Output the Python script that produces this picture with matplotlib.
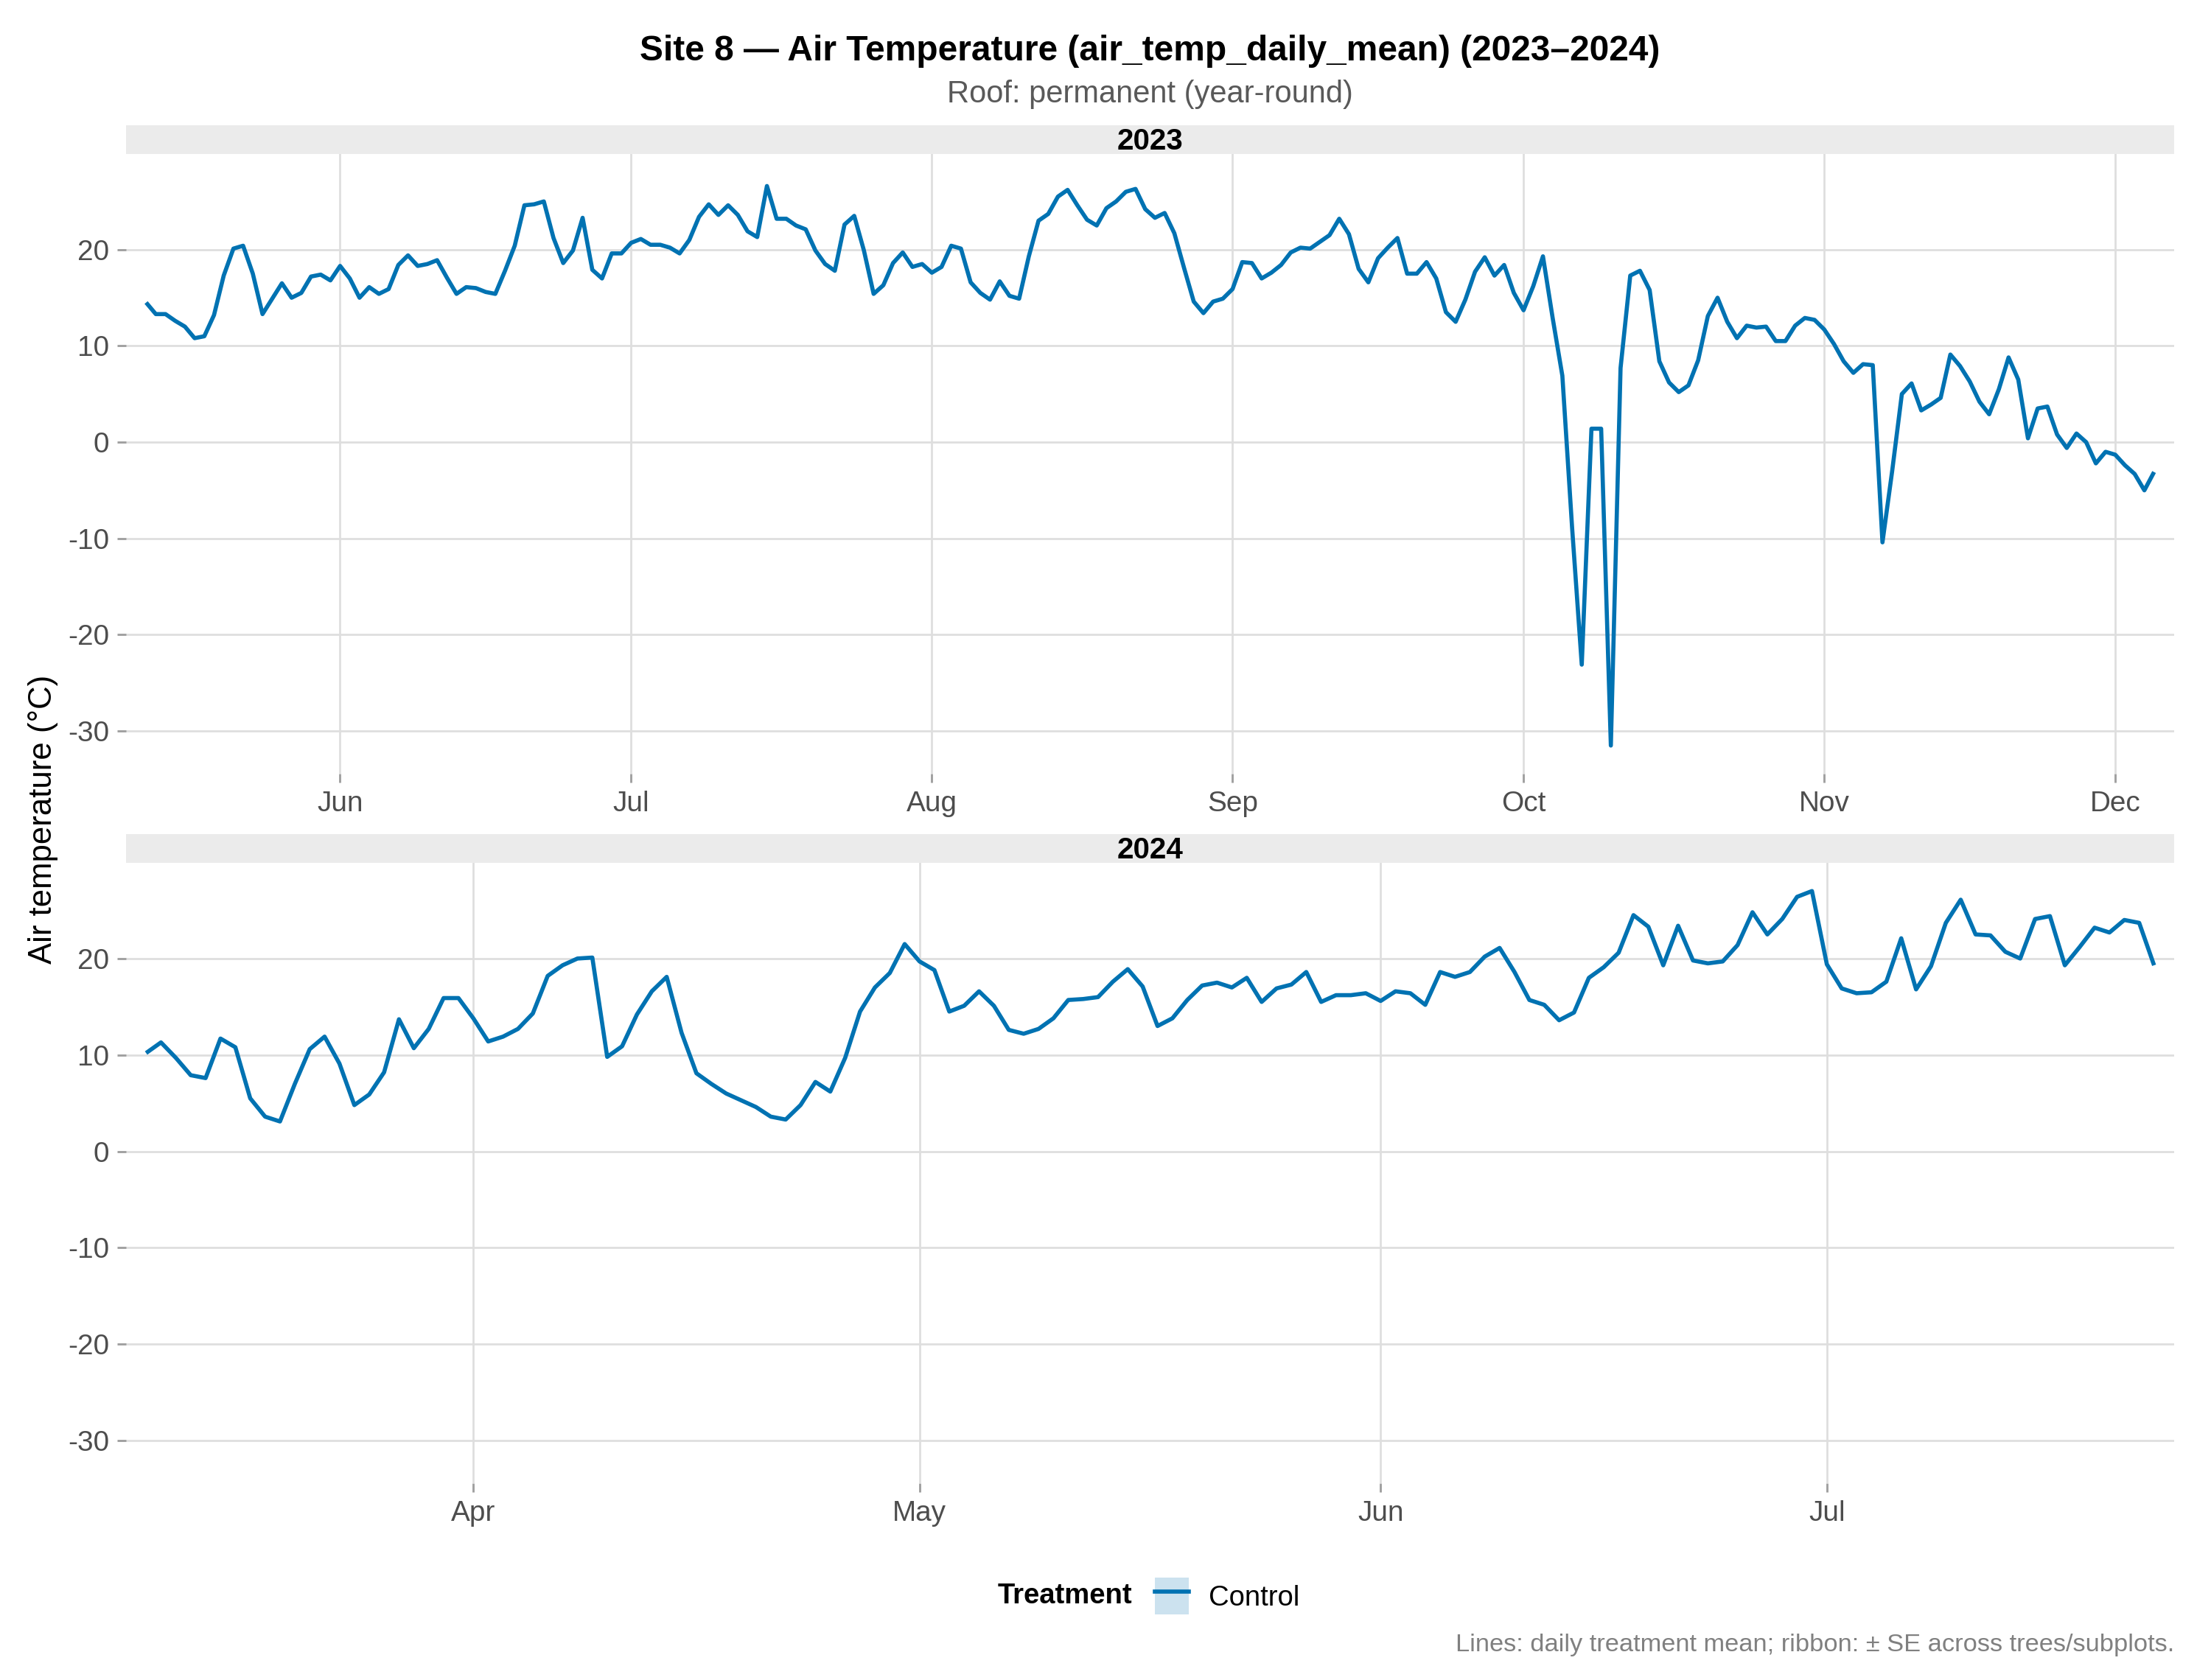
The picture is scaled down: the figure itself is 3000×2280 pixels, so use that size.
import matplotlib
matplotlib.use('Agg')
import matplotlib.pyplot as plt
import matplotlib.dates as mdates
from matplotlib.patches import Patch
from matplotlib.lines import Line2D
import pandas as pd

plt.rcParams['font.family'] = ['Liberation Sans', 'DejaVu Sans']
plt.rcParams['axes.unicode_minus'] = False

# daily treatment mean of air temperature (Control)
start_2023 = '2023-05-12'
temp_2023 = [
    # May 12-31
    14.5, 13.3, 13.3, 12.6, 12.0, 10.8, 11.0, 13.2, 17.3, 20.1, 20.4, 17.5, 13.3, 14.9, 16.5, 15.0, 15.5, 17.2, 17.4, 16.8,
    # Jun
    18.3, 17.0, 15.0, 16.1, 15.4, 15.9, 18.4, 19.4, 18.3, 18.5, 18.9, 17.1, 15.4, 16.1, 16.0, 15.6, 15.4, 17.8, 20.4, 24.6,
    24.7, 25.0, 21.2, 18.6, 19.9, 23.3, 17.9, 17.0, 19.6, 19.6,
    # Jul
    20.7, 21.1, 20.5, 20.5, 20.2, 19.6, 21.0, 23.4, 24.7, 23.6, 24.6, 23.6, 21.9, 21.3, 26.6, 23.2, 23.2, 22.5, 22.1, 19.9,
    18.5, 17.8, 22.6, 23.5, 19.9, 15.4, 16.3, 18.6, 19.7, 18.2, 18.5,
    # Aug
    17.6, 18.2, 20.4, 20.1, 16.6, 15.5, 14.8, 16.7, 15.2, 14.9, 19.3, 23.0, 23.7, 25.5, 26.2, 24.6, 23.1, 22.5, 24.3, 25.0,
    26.0, 26.3, 24.2, 23.3, 23.8, 21.7, 18.1, 14.6, 13.4, 14.6, 14.9,
    # Sep
    15.9, 18.7, 18.6, 17.0, 17.6, 18.4, 19.7, 20.2, 20.1, 20.8, 21.5, 23.2, 21.6, 18.0, 16.6, 19.1, 20.2, 21.2, 17.5, 17.5,
    18.7, 17.0, 13.5, 12.5, 14.8, 17.7, 19.2, 17.3, 18.4, 15.5,
    # Oct
    13.7, 16.2, 19.3, 12.9, 6.9, -8.8, -23.1, 1.4, 1.4, -31.5, 7.7, 17.3, 17.8, 15.8, 8.4, 6.2, 5.2, 5.9, 8.5, 13.1,
    15.0, 12.5, 10.8, 12.1, 11.9, 12.0, 10.5, 10.5, 12.1, 12.9, 12.7,
    # Nov
    11.7, 10.2, 8.4, 7.2, 8.1, 8.0, -10.4, -3.0, 5.0, 6.1, 3.3, 3.9, 4.6, 9.1, 7.9, 6.3, 4.2, 2.9, 5.5, 8.8,
    6.5, 0.4, 3.5, 3.7, 0.8, -0.6, 0.9, 0.0, -2.2, -1.0,
    # Dec 1-5
    -1.3, -2.4, -3.3, -5.0, -3.1,
]

start_2024 = '2024-03-10'
temp_2024 = [
    # Mar 10-31
    10.2, 11.3, 9.7, 7.9, 7.6, 11.7, 10.8, 5.5, 3.6, 3.1, 7.0, 10.6, 11.9, 9.1, 4.8, 5.9, 8.2, 13.7, 10.7, 12.7,
    15.9, 15.9,
    # Apr
    13.8, 11.4, 11.9, 12.7, 14.3, 18.2, 19.3, 20.0, 20.1, 9.8, 10.9, 14.2, 16.6, 18.1, 12.3, 8.1, 7.0, 6.0, 5.3, 4.6,
    3.6, 3.3, 4.8, 7.2, 6.2, 9.7, 14.5, 17.0, 18.5, 21.5,
    # May
    19.7, 18.8, 14.5, 15.1, 16.6, 15.1, 12.6, 12.2, 12.7, 13.8, 15.7, 15.8, 16.0, 17.6, 18.9, 17.1, 13.0, 13.8, 15.7, 17.2,
    17.5, 17.0, 18.0, 15.5, 16.9, 17.3, 18.6, 15.5, 16.2, 16.2, 16.4,
    # Jun
    15.6, 16.6, 16.4, 15.2, 18.6, 18.1, 18.6, 20.2, 21.1, 18.6, 15.7, 15.2, 13.6, 14.4, 18.0, 19.1, 20.6, 24.5, 23.3, 19.3,
    23.4, 19.8, 19.5, 19.7, 21.4, 24.8, 22.5, 24.1, 26.4, 27.0,
    # Jul 1-23
    19.4, 16.9, 16.4, 16.5, 17.6, 22.1, 16.8, 19.2, 23.7, 26.1, 22.5, 22.4, 20.7, 20.0, 24.1, 24.4, 19.3, 21.2, 23.2, 22.7,
    24.0, 23.7, 19.3,
]

years = ['2023', '2024']
starts = [start_2023, start_2024]
series = [temp_2023, temp_2024]
y_ticks = [-30, -20, -10, 0, 10, 20]

line_col = '#0072B2'
W, H = 3000, 2280

fig = plt.figure(figsize=(10, 7.6), dpi=300)

# panel boxes in pixels: (top of strip, top of panel, bottom of panel)
left_px, right_px = 171, 2950
boxes = [(170, 209, 1050), (1132, 1171, 2013)]

ymin = min(min(temp_2023), min(temp_2024))
ymax = max(max(temp_2023), max(temp_2024))
yexp = (ymax - ymin) * 0.05

for year, start, vals, (s_top, p_top, p_bot) in zip(years, starts, series, boxes):
    x0 = left_px / W
    w = (right_px - left_px) / W
    ax = fig.add_axes([x0, 1 - p_bot / H, w, (p_bot - p_top) / H])
    strip = fig.add_axes([x0, 1 - p_top / H, w, (p_top - s_top) / H])

    dates = pd.date_range(start, periods=len(vals), freq='D')
    ax.plot(dates, vals, color=line_col, lw=1.35, solid_joinstyle='round', solid_capstyle='butt', zorder=3)

    span = dates[-1] - dates[0]
    ax.set_xlim(dates[0] - span * 0.01, dates[-1] + span * 0.01)
    ax.set_ylim(ymin - yexp, ymax + yexp)
    ax.set_yticks(y_ticks)
    ax.xaxis.set_major_locator(mdates.MonthLocator())
    ax.xaxis.set_major_formatter(mdates.DateFormatter('%b'))

    for sp in ax.spines.values():
        sp.set_visible(False)
    ax.grid(True, color='#DEDEDE', lw=0.65)
    ax.set_axisbelow(True)
    ax.tick_params(axis='both', color='#A0A0A0', length=2.8, width=0.7,
                   labelcolor='#4D4D4D', labelsize=9.3)
    ax.tick_params(axis='y', pad=2.6)
    ax.tick_params(axis='x', pad=2.8)

    strip.set_facecolor('#EBEBEB')
    strip.set_xticks([])
    strip.set_yticks([])
    for sp in strip.spines.values():
        sp.set_visible(False)
    strip.text(0.5, 0.44, year, ha='center', va='center', fontsize=9.7, fontweight='bold')

cx = (left_px + right_px) / 2 / W
fig.text(cx, 1 - 70 / H, 'Site 8 \u2014 Air Temperature (air_temp_daily_mean) (2023\u20132024)',
         ha='center', va='center', fontsize=11.5, fontweight='bold')
fig.text(cx, 1 - 128 / H, 'Roof: permanent (year-round)', ha='center', va='center',
         fontsize=10, color='#595959')
fig.text(59 / W, 1 - 1112 / H, 'Air temperature (\u00b0C)', rotation=90, ha='center', va='center',
         fontsize=10.5)

# legend at the bottom
leg_y = 1 - 2166 / H
fig.text(1354 / W, leg_y, 'Treatment', ha='left', va='center', fontsize=9.2, fontweight='bold')
key = (Patch(facecolor=line_col, alpha=0.2, edgecolor='none'), Line2D([], [], color=line_col, lw=1.35))
fig.legend(handles=[key], labels=['Control'], loc='center left', bbox_to_anchor=(1567 / W, leg_y),
           frameon=False, fontsize=9.2, handlelength=1.2, handleheight=1.6, handletextpad=0.7,
           borderpad=0, borderaxespad=0)

fig.text(right_px / W, 1 - 2232 / H, 'Lines: daily treatment mean; ribbon: \u00b1 SE across trees/subplots.',
         ha='right', va='center', fontsize=8.25, color='#808080')

fig.savefig('out.png', dpi=300)
